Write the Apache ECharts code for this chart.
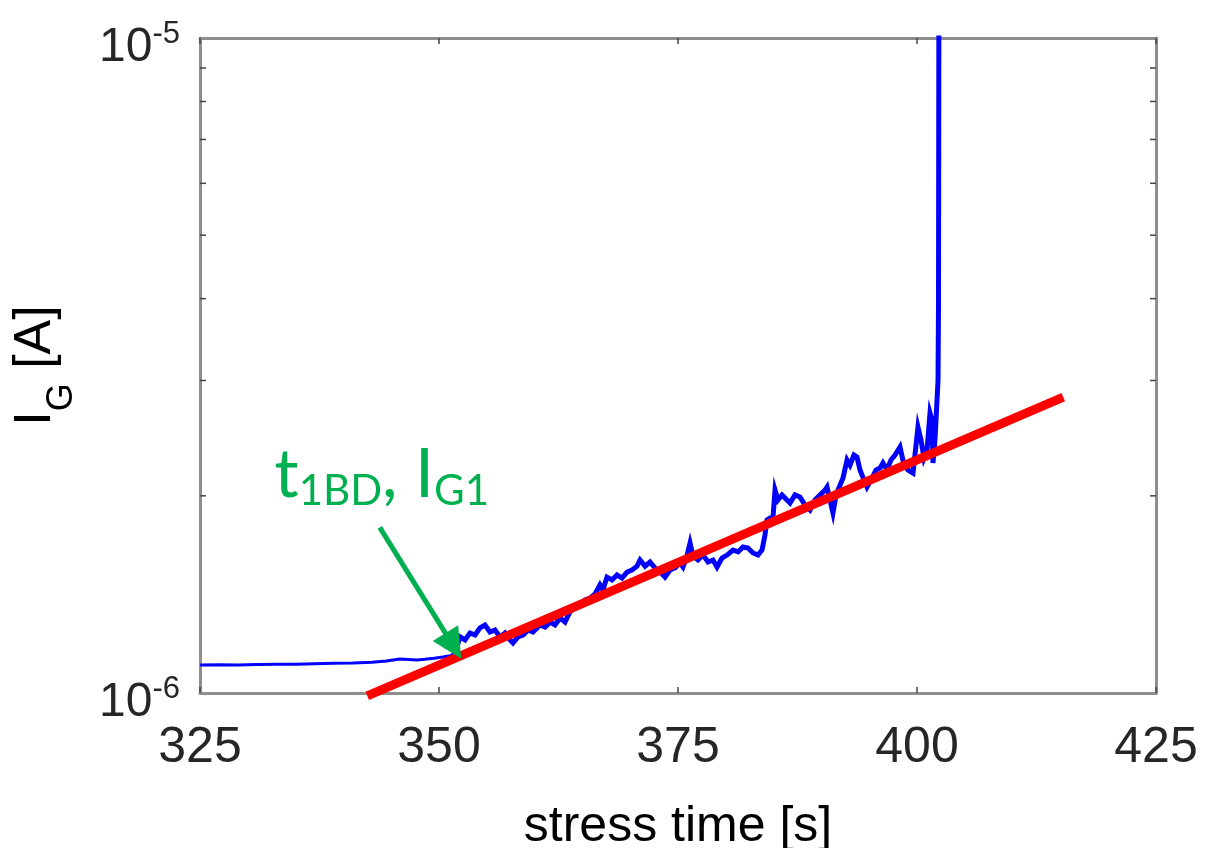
<!DOCTYPE html>
<html>
<head>
<meta charset="utf-8">
<title>IG vs stress time</title>
<script src="https://cdn.jsdelivr.net/npm/echarts@6.0.0/dist/echarts.min.js"></script>
<style>
    html, body { margin: 0; padding: 0; background: #fff; }
    #chart { width: 1205px; height: 848px; }
</style>
</head>
<body>
<div id="chart"></div>
<script>
    // axis
    var xMin = 325, xMax = 425, xStep = 25;
    var yMin = 1e-6, yMax = 1e-5;
    var yMinorTicks = [2e-6, 3e-6, 4e-6, 5e-6, 6e-6, 7e-6, 8e-6, 9e-6];

    // gate current before first breakdown (s, uA)
    var preTime = [325.0, 327.0, 329.0, 331.0, 333.0, 335.0, 337.0, 339.0, 341.0, 343.0, 344.5, 345.9, 346.8, 347.7, 348.5, 349.5, 350.4, 351.2, 351.67];
    var preCurrent = [1.103, 1.104, 1.103, 1.105, 1.106, 1.106, 1.108, 1.110, 1.111, 1.114, 1.119, 1.127, 1.125, 1.123, 1.126, 1.130, 1.135, 1.140, 1.151];

    // gate current after first breakdown (s, uA)
    var postTime = [351.67, 352.20, 352.72, 353.24, 353.77, 354.29, 354.81, 355.33, 355.86, 356.38,
        356.90, 357.43, 357.74, 358.26, 358.79, 359.31, 359.83, 360.56, 361.09, 361.61,
        362.13, 362.66, 363.18, 363.70, 364.23, 364.75, 365.27, 365.79, 366.32, 366.84,
        367.15, 367.57, 368.10, 368.62, 369.14, 369.67, 370.19, 370.71, 371.03, 371.55,
        372.07, 372.59, 373.12, 373.64, 374.16, 374.69, 375.21, 375.52, 375.94, 376.26,
        376.57, 377.09, 377.62, 378.14, 378.66, 379.08, 379.60, 380.13, 380.75, 381.28,
        381.80, 382.32, 382.85, 383.37, 383.79, 384.10, 384.31, 384.62, 384.94, 385.15,
        385.46, 385.88, 386.40, 386.72, 387.24, 387.76, 388.29, 388.81, 389.33, 389.85,
        390.38, 390.59, 390.90, 391.21, 391.53, 391.95, 392.26, 392.68, 392.99, 393.41,
        393.72, 394.04, 394.46, 394.77, 395.29, 395.71, 396.13, 396.44, 396.86, 397.28,
        397.70, 398.22, 398.64, 399.06, 399.58, 399.90, 400.10, 400.42, 400.73, 401.05,
        401.36, 401.57, 401.67, 401.88, 401.99, 402.20, 402.25, 402.30];
    var postCurrent = [1.151, 1.218, 1.205, 1.235, 1.226, 1.257, 1.270, 1.239, 1.248, 1.218,
        1.235, 1.205, 1.192, 1.218, 1.226, 1.248, 1.239, 1.270, 1.261, 1.283,
        1.270, 1.302, 1.283, 1.330, 1.348, 1.363, 1.387, 1.396, 1.416, 1.462,
        1.436, 1.503, 1.488, 1.514, 1.498, 1.530, 1.541, 1.562, 1.596, 1.562,
        1.585, 1.552, 1.530, 1.503, 1.541, 1.552, 1.579, 1.557, 1.619, 1.694,
        1.619, 1.596, 1.624, 1.585, 1.596, 1.557, 1.607, 1.624, 1.653, 1.642,
        1.671, 1.665, 1.636, 1.624, 1.653, 1.743, 1.837, 1.850, 1.856, 2.041,
        1.971, 2.006, 1.971, 1.950, 2.006, 1.992, 1.936, 1.903, 1.971, 2.006,
        2.041, 2.063, 1.971, 1.883, 2.006, 2.077, 2.129, 2.269, 2.229, 2.309,
        2.293, 2.190, 2.114, 2.063, 2.129, 2.190, 2.205, 2.245, 2.190, 2.269,
        2.309, 2.375, 2.229, 2.190, 2.167, 2.391, 2.547, 2.434, 2.285, 2.350,
        2.676, 2.611, 2.245, 2.434, 2.611, 3.005, 3.94, 15.0];

    // exponential fit (red line), end points
    var fitTime = [342.5, 415.3];
    var fitCurrent = [0.99, 2.83];

    // annotation: arrow tail, arrow tip, text centre (s, uA)
    var arrowFrom = [343.8, 1.79];
    var arrowTo = [351.5, 1.18];
    var labelAt = [344.0, 2.15];

    function pairs(t, iuA) {
        var out = [];
        for (var i = 0; i < t.length; i++) {
            out.push([t[i], iuA[i] * 1e-6]);
        }
        return out;
    }

    var frameColor = '#8e8e8e';
    var tickColor = '#444';
    var green = '#00b050';

    var chart = echarts.init(document.getElementById('chart'));
    chart.setOption({
        animation: false,
        backgroundColor: '#fff',
        grid: {left: 200, right: 49, top: 38, bottom: 155, outerBoundsMode: 'none', containLabel: false},
        xAxis: [
            {
                type: 'value', min: xMin, max: xMax, interval: xStep,
                name: 'stress time [s]',
                nameLocation: 'middle',
                nameGap: 109,
                nameTextStyle: {fontFamily: 'Liberation Sans', fontSize: 50, color: '#000'},
                axisLine: {lineStyle: {color: frameColor, width: 3}},
                axisTick: {inside: true, length: 6, lineStyle: {color: tickColor, width: 1.5}},
                axisLabel: {margin: 30, fontFamily: 'Liberation Sans', fontSize: 50, color: '#262626'},
                splitLine: {show: false}
            },
            {
                type: 'value', min: xMin, max: xMax, interval: xStep, position: 'top',
                axisLine: {lineStyle: {color: frameColor, width: 3}},
                axisTick: {inside: true, length: 6, lineStyle: {color: tickColor, width: 1.5}},
                axisLabel: {show: false},
                splitLine: {show: false}
            }
        ],
        yAxis: [
            {
                type: 'log', logBase: 10, min: yMin, max: yMax,
                name: '{m|I}{s|G}{m| [A]}',
                nameLocation: 'middle',
                nameRotate: 90,
                nameGap: 120,
                nameTextStyle: {
                    color: '#000',
                    rich: {
                        m: {fontFamily: 'Liberation Sans', fontSize: 52, lineHeight: 88, color: '#000'},
                        s: {fontFamily: 'Liberation Sans', fontSize: 36, lineHeight: 20, verticalAlign: 'bottom', color: '#000'}
                    }
                },
                axisLine: {lineStyle: {color: frameColor, width: 3}},
                axisTick: {show: false},
                axisLabel: {
                    margin: 20,
                    padding: [19, 0, 0, 0],
                    formatter: function (v) {
                        var e = Math.round(Math.log10(v));
                        return '{b|10}{s|' + e + '}';
                    },
                    rich: {
                        b: {fontFamily: 'Liberation Sans', fontSize: 48, lineHeight: 57, color: '#262626'},
                        s: {fontFamily: 'Liberation Sans', fontSize: 31, lineHeight: 20, verticalAlign: 'top', color: '#262626'}
                    }
                },
                splitLine: {show: false}
            },
            {
                type: 'log', logBase: 10, min: yMin, max: yMax, position: 'right',
                axisLine: {lineStyle: {color: frameColor, width: 3}},
                axisTick: {show: false},
                axisLabel: {show: false},
                splitLine: {show: false}
            }
        ],
        series: [
            {
                // minor ticks of the log axis, both sides
                type: 'custom',
                silent: true,
                data: yMinorTicks.map(function (v) { return [xMin, v]; }),
                renderItem: function (params, api) {
                    var cs = params.coordSys;
                    var y = api.coord([xMin, api.value(1)])[1];
                    var st = {stroke: tickColor, lineWidth: 1.5};
                    return {
                        type: 'group',
                        children: [
                            {type: 'line', shape: {x1: cs.x, y1: y, x2: cs.x + 6, y2: y}, style: st},
                            {type: 'line', shape: {x1: cs.x + cs.width - 6, y1: y, x2: cs.x + cs.width, y2: y}, style: st}
                        ]
                    };
                },
                z: 1
            },
            {
                name: 'before BD',
                type: 'line',
                data: pairs(preTime, preCurrent),
                showSymbol: false,
                lineStyle: {color: '#0000ff', width: 3},
                z: 2
            },
            {
                name: 'after BD',
                type: 'line',
                data: pairs(postTime, postCurrent),
                showSymbol: false,
                lineStyle: {color: '#0000ff', width: 5, join: 'miter'},
                z: 2
            },
            {
                name: 'fit',
                type: 'line',
                data: pairs(fitTime, fitCurrent),
                showSymbol: false,
                clip: false,
                lineStyle: {color: '#ff0000', width: 9},
                z: 3,
                markLine: {
                    silent: true,
                    symbol: ['none', 'triangle'],
                    symbolSize: [30, 30],
                    label: {show: false},
                    lineStyle: {color: green, width: 5, type: 'solid'},
                    data: [[
                        {coord: [arrowFrom[0], arrowFrom[1] * 1e-6]},
                        {coord: [arrowTo[0], arrowTo[1] * 1e-6]}
                    ]]
                },
                markPoint: {
                    silent: true,
                    symbol: 'circle',
                    symbolSize: 0,
                    data: [{
                        coord: [labelAt[0], labelAt[1] * 1e-6],
                        label: {
                            show: true,
                            position: 'inside',
                            formatter: '{m|t}{s|1BD}{m|, I}{s|G1}',
                            rich: {
                                m: {fontFamily: 'Lato', fontSize: 68, lineHeight: 74, color: green},
                                s: {fontFamily: 'Lato', fontSize: 42, lineHeight: 20, verticalAlign: 'bottom', color: green}
                            }
                        }
                    }]
                }
            }
        ]
    });
</script>
</body>
</html>
